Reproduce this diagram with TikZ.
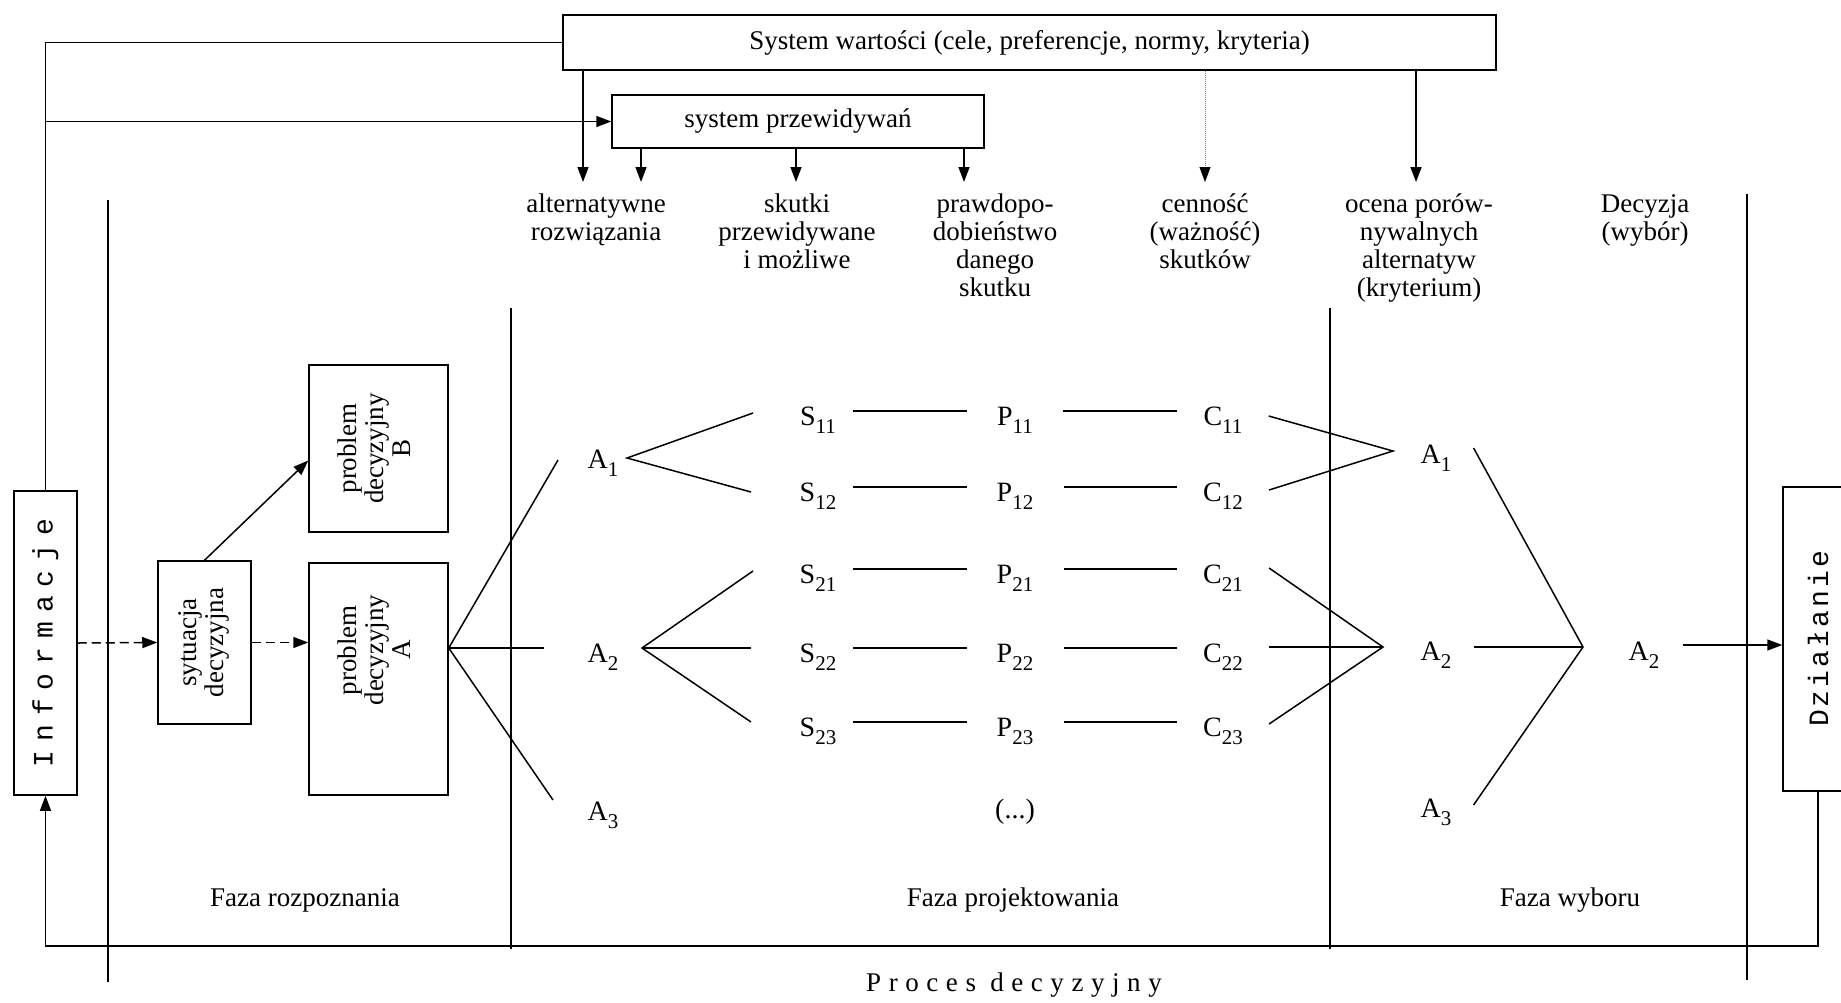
\documentclass[tikz,border=0pt]{standalone}
\usepackage{fontspec}
\setmainfont{Liberation Serif}
\newfontfamily\monofnt{Liberation Mono}
\usetikzlibrary{arrows.meta}
\newcommand\sbs[1]{\raisebox{-8pt}{\fontsize{21}{21}\selectfont #1}}
\begin{document}
\begin{tikzpicture}[x=1pt,y=-1pt,
  every node/.style={inner sep=0pt, font=\fontsize{27}{28}\selectfont},
  ln/.style={line width=1.5pt},
  thin/.style={line width=1.2pt},
  tip/.style={-{Triangle[length=15pt,width=11pt]}},
  arr/.style={ln,tip},
  dasharr/.style={ln,tip,dash pattern=on 9pt off 5pt},
  box/.style={draw,line width=1.5pt},
  head/.style={align=center,anchor=north},
  rot/.style={font=\fontsize{27}{27}\selectfont},
  lab/.style={font=\fontsize{28}{28}\selectfont,anchor=base},
  sn/.style={lab,inner xsep=17pt},
  pn/.style={lab,inner xsep=30pt},
  cn/.style={lab,inner xsep=26pt},
  an/.style={lab,inner xsep=22pt},
  vmono/.style={font=\monofnt\fontsize{28}{28}\selectfont\addfontfeature{LetterSpace=#1}}
]
\useasboundingbox (0,0) rectangle (1841,1002);
\fill[white] (0,0) rectangle (1841,1002);
\clip (0,0) rectangle (1841,1002);

% ---------- boxes ----------
\node[box,minimum width=933pt,minimum height=55pt] (sw) at (1029.5,42.5) {System wartości (cele, preferencje, normy, kryteria)};
\node[box,minimum width=372pt,minimum height=53pt] (sp) at (798,121.5) {system przewidywań};
\node[box,minimum width=63pt,minimum height=304pt,vmono=32] (inf) at (45.5,643) {\rotatebox{90}{Informacje}};
\node[box,rot,minimum width=93pt,minimum height=163pt] (syt) at (204.5,642.5)
  {\rotatebox{90}{\begin{tabular}{@{}c@{}}sytuacja\\decyzyjna\end{tabular}}};
\node[box,rot,minimum width=139pt,minimum height=167pt] (pB) at (378.5,448.5)
  {\rotatebox{90}{\begin{tabular}{@{}c@{}}problem\\decyzyjny\\B\end{tabular}}};
\node[box,minimum width=139pt,minimum height=232pt] (pA) at (378.5,679) {};
\node[rot] (pAt) at (378.5,650)
  {\rotatebox{90}{\begin{tabular}{@{}c@{}}problem\\decyzyjny\\A\end{tabular}}};
\node[box,minimum width=70pt,minimum height=304pt,vmono=11] (dz) at (1818,639) {\rotatebox{90}{Działanie}};

% ---------- headings ----------
\node[head] (h1) at (596,194) {alternatywne\\rozwiązania};
\node[head] (h2) at (797,194) {skutki\\przewidywane\\i możliwe};
\node[head] (h3) at (995,194) {prawdopo-\\dobieństwo\\danego\\skutku};
\node[head] (h4) at (1205,194) {cenność\\(ważność)\\skutków};
\node[head] (h5) at (1419,194) {ocena porów-\\nywalnych\\alternatyw\\(kryterium)};
\node[head] (h6) at (1645,194) {Decyzja\\(wybór)};

% ---------- arrows from the systems ----------
\coordinate (t1) at (583,182);
\coordinate (t2) at (641,182);
\coordinate (t3) at (796,182);
\coordinate (t4) at (964,182);
\coordinate (t5) at (1205,182);
\coordinate (t6) at (1416,182);
\draw[arr] (sw.south -| t1) -- (t1);
\draw[arr] (sp.south -| t2) -- (t2);
\draw[arr] (sp.south -| t3) -- (t3);
\draw[arr] (sp.south -| t4) -- (t4);
\draw[line width=1pt,gray,densely dotted,-{Triangle[length=15pt,width=11pt,color=black]}] (sw.south -| t5) -- (t5);
\draw[arr] (sw.south -| t6) -- (t6);

% ---------- feedback lines ----------
\draw[ln] (inf.north) |- (sw.west);
\draw[arr] (inf.north |- sp.west) -- (sp.west);
\coordinate (bot) at (0,946);
\draw[arr] (dz.south) -- (dz.south |- bot) -| (inf.south);

% ---------- phase separators ----------
\draw[thin] (108,200) -- (108,982);
\draw[thin] (511,308) -- (511,949);
\draw[thin] (1330,308) -- (1330,949);
\draw[thin] (1747,194) -- (1747,980);

% ---------- left phase ----------
\draw[dasharr] (inf.east) -- (syt.west);
\draw[dasharr] (syt.east) -- (syt.east -| pA.west);
\draw[arr] (syt.north) -- ([yshift=-12pt]pB.west);

\coordinate (rA) at (0,648);
\coordinate (fA) at (pA.east |- rA);
\coordinate (l1) at (558,460);
\coordinate (l2) at (544,648);
\coordinate (l3) at (553,800);
\draw[ln] (l1) -- (fA) -- (l3);
\draw[ln] (fA) -- (l2);

% ---------- alternatives ----------
\node[lab] (a1) at (603,468) {A\sbs{1}};
\node[lab] (a2) at (603,662) {A\sbs{2}};
\node[lab] (a3) at (603,820) {A\sbs{3}};

\coordinate (va1) at (627,458);
\coordinate (e11) at (753,413);
\coordinate (e12) at (751,492);
\draw[ln] (e11) -- (va1) -- (e12);
\coordinate (va2) at (642,648);
\coordinate (e21) at (753,571);
\coordinate (e22) at (751,648);
\coordinate (e23) at (751,722);
\draw[ln] (e21) -- (va2) -- (e23);
\draw[ln] (va2) -- (e22);

% ---------- S P C rows ----------
\node[sn] (s11) at (818,425) {S\sbs{11}};
\node[sn] (s12) at (818,501) {S\sbs{12}};
\node[sn] (s21) at (818,583) {S\sbs{21}};
\node[sn] (s22) at (818,662) {S\sbs{22}};
\node[sn] (s23) at (818,736) {S\sbs{23}};
\node[pn] (p11) at (1015,425) {P\sbs{11}};
\node[pn] (p12) at (1015,501) {P\sbs{12}};
\node[pn] (p21) at (1015,583) {P\sbs{21}};
\node[pn] (p22) at (1015,662) {P\sbs{22}};
\node[pn] (p23) at (1015,736) {P\sbs{23}};
\node[cn] (c11) at (1223,425) {C\sbs{11}};
\node[cn] (c12) at (1223,501) {C\sbs{12}};
\node[cn] (c21) at (1223,583) {C\sbs{21}};
\node[cn] (c22) at (1223,662) {C\sbs{22}};
\node[cn] (c23) at (1223,736) {C\sbs{23}};
\node[lab] (dots) at (1015,818) {(...)};

\foreach \r in {11,12,21,22,23}{
  \draw[ln] ([yshift=14pt]s\r.base east) -- ([yshift=14pt]p\r.base west);
  \draw[ln] ([yshift=14pt]p\r.base east) -- ([yshift=14pt]c\r.base west);
}

% ---------- evaluation ----------
\coordinate (vb1) at (1393,451);
\coordinate (vb2) at (1383,647);
\draw[ln] ([yshift=9pt]c11.base east) -- (vb1) -- ([yshift=11pt]c12.base east);
\draw[ln] ([yshift=15pt]c21.base east) -- (vb2) -- ([yshift=12pt]c23.base east);
\draw[ln] ([yshift=15pt]c22.base east) -- (vb2);

\node[an] (b1) at (1436,463) {A\sbs{1}};
\node[an] (b2) at (1436,660) {A\sbs{2}};
\node[an] (b3) at (1436,817) {A\sbs{3}};

\coordinate (vc) at (1583,647);
\draw[ln] ([yshift=15pt]b1.base east) -- (vc) -- ([yshift=12pt]b3.base east);
\draw[ln] ([yshift=13pt]b2.base east) -- (vc);

\node[an,inner xsep=23pt] (d2) at (1644,660) {A\sbs{2}};
\draw[arr] ([yshift=15pt]d2.base east) -- ([yshift=15pt]d2.base east -| dz.west);

% ---------- phase names ----------
\node (f1) at (305,900) {Faza rozpoznania};
\node (f2) at (1013,900) {Faza projektowania};
\node (f3) at (1570,900) {Faza wyboru};
\node[font=\fontsize{27}{28}\selectfont\addfontfeature{LetterSpace=28}] (pd) at (1014,985) {Proces decyzyjny};
\end{tikzpicture}
\end{document}
